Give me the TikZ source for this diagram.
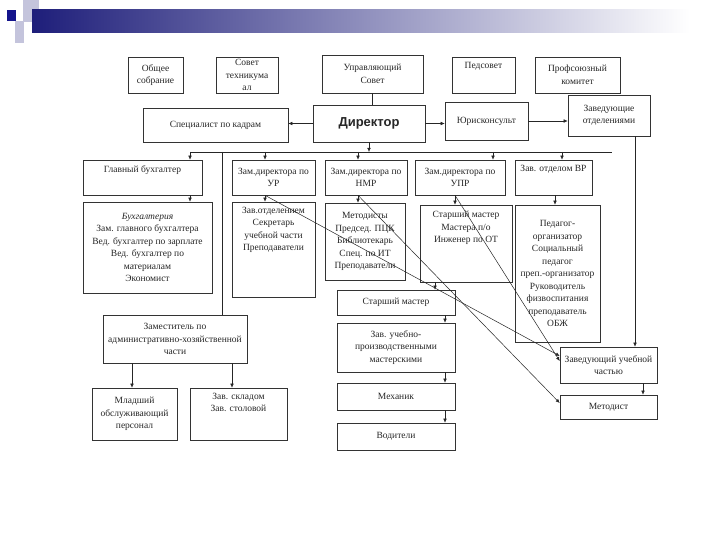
\documentclass[tikz,border=0pt]{standalone}
\usepackage{fontspec}
\setmainfont{Liberation Serif}
\newfontfamily\dirfont{Liberation Sans}
\usetikzlibrary{arrows.meta}
\definecolor{navy}{HTML}{14148C}
\definecolor{barl}{HTML}{1E1E7A}
\definecolor{barm}{HTML}{A4A4C0}
\definecolor{lav}{HTML}{C4C4DC}
\begin{document}
\begin{tikzpicture}[x=1pt,y=-1pt,
  box/.style={draw=black!80, line width=0.6pt, rectangle, inner sep=1pt, align=center,
    font=\fontsize{9.5}{12.5}\selectfont, text=black!85},
  txt/.style={inner sep=0pt, align=center, font=\fontsize{9.5}{12.5}\selectfont, text=black!85},
  arr/.style={draw=black!85, line width=0.5pt, -{Latex[length=4pt,width=3.5pt]}},
  ln/.style={draw=black!85, line width=0.6pt}]
\useasboundingbox (0,0) rectangle (720,540);
\fill[white] (0,0) rectangle (720,540);
% header
\fill[lav] (23,0) rectangle (39,22);
\fill[lav] (15,21) rectangle (24,43);
\fill[navy] (7,10) rectangle (16,21);
\shade[left color=barl, middle color=barm, right color=white] (32,10) rectangle (690,33);
% top row
\node[box, minimum width=55, minimum height=36] (obs) at (155.5,75) {Общее\\собрание};
\node[box, minimum width=62, minimum height=36] (sov) at (247,75) {Совет\\техникума\\ал};
\node[box, minimum width=101, minimum height=38] (upr) at (372.5,74) {Управляющий\\Совет};
\node[box, minimum width=63, minimum height=36] (ped) at (483.5,75) {};
\node[txt, anchor=north] (pedt) at (483.5,62) {Педсовет};
\node[box, minimum width=85, minimum height=36] (prof) at (577.5,75) {Профсоюзный\\комитет};
% second row
\node[box, minimum width=145, minimum height=34] (kadr) at (215.5,125) {Специалист по кадрам};
\node[box, minimum width=112, minimum height=37, font=\dirfont\bfseries\fontsize{13}{15}\selectfont] (dir) at (369,123.5) {Директор};
\node[box, minimum width=83, minimum height=38] (jur) at (486.5,121) {Юрисконсульт};
\node[box, minimum width=82, minimum height=41] (zavotd) at (609,115.5) {Заведующие\\отделениями};
% third row
\node[box, minimum width=119, minimum height=35] (glbuh) at (142.5,177.5) {};
\node[txt, anchor=north] (glbuht) at (142.5,166) {Главный бухгалтер};
\node[box, minimum width=83, minimum height=35] (ur) at (273.5,177.5) {Зам.директора по\\УР};
\node[box, minimum width=82, minimum height=35] (nmr) at (366,177.5) {Зам.директора по\\НМР};
\node[box, minimum width=90, minimum height=35] (upr2) at (460,177.5) {Зам.директора по\\УПР};
\node[box, minimum width=77, minimum height=35] (vr) at (553.5,177.5) {};
\node[txt, anchor=north] (vrt) at (553.5,165) {Зав. отделом ВР};
% fourth row
\node[box, minimum width=129, minimum height=91] (buh) at (147.5,247.5) {\textit{Бухгалтерия}\\Зам. главного бухгалтера\\Вед. бухгалтер по зарплате\\Вед. бухгалтер по\\материалам\\Экономист};
\node[box, minimum width=83, minimum height=95] (zo) at (273.5,249.5) {};
\node[txt, anchor=north] (zot) at (273.5,207) {Зав.отделением\\Секретарь\\учебной части\\Преподаватели};
\node[box, minimum width=80, minimum height=77] (met) at (365,241.5) {Методисты\\Председ. ПЦК\\Библиотекарь\\Спец. по ИТ\\Преподаватели};
\node[box, minimum width=92, minimum height=77] (sm1) at (466,243.5) {};
\node[txt, anchor=north] (sm1t) at (466,211) {Старший мастер\\Мастера п/о\\Инженер по ОТ};
\node[box, minimum width=85, minimum height=137, font=\fontsize{9.5}{12.5}\selectfont] (ped2) at (557.5,273.5) {Педагог-\\организатор\\Социальный\\педагог\\преп.-организатор\\Руководитель\\физвоспитания\\преподаватель\\ОБЖ};
% middle column
\node[box, minimum width=118, minimum height=25] (sm2) at (396,302.5) {Старший мастер};
\node[box, minimum width=118, minimum height=49] (zum) at (396,347.5) {Зав. учебно-\\производственными\\мастерскими};
\node[box, minimum width=118, minimum height=27] (mech) at (396,396.5) {Механик};
\node[box, minimum width=118, minimum height=27] (vod) at (396,436.5) {Водители};
% bottom left
\node[box, minimum width=144, minimum height=48] (ahch) at (175,339) {Заместитель по\\административно-хозяйственной\\части};
\node[box, minimum width=85, minimum height=52] (mop) at (134.5,414) {Младший\\обслуживающий\\персонал};
\node[box, minimum width=97, minimum height=52] (sklad) at (238.5,414) {};
\node[txt, anchor=north] (skladt) at (238.5,393) {Зав. складом\\Зав. столовой};
% right
\node[box, minimum width=97, minimum height=36] (zuch) at (608.5,365) {Заведующий учебной\\частью};
\node[box, minimum width=97, minimum height=24] (metodist) at (608.5,407) {Методист};
% column coordinates
\coordinate (busL) at (190,152);
\coordinate (busR) at (612,152);
\coordinate (c222) at (222,152);
\coordinate (c265) at (265,152);
\coordinate (c358) at (358,152);
\coordinate (c493) at (493,152);
\coordinate (c562) at (562,152);
\coordinate (c455) at (455,0);
\coordinate (c555) at (555,0);
\coordinate (c435) at (435,0);
\coordinate (c445) at (445,0);
\coordinate (c132) at (132,0);
\coordinate (c232) at (232,0);
\coordinate (c635) at (635,0);
\coordinate (c643) at (643,0);
% connectors
\draw[ln] (upr.south) -- (upr.south |- dir.north);
\draw[arr] (dir.west) -- (dir.west -| kadr.east);
\draw[arr] (dir.east) -- (dir.east -| jur.west);
\draw[arr] (jur.east) -- (jur.east -| zavotd.west);
\draw[arr] (dir.south) -- (dir.south |- busL);
\draw[ln] (busL) -- (busR);
\draw[arr] (busL) -- (busL |- glbuh.north);
\draw[arr] (c265) -- (c265 |- ur.north);
\draw[arr] (c358) -- (c358 |- nmr.north);
\draw[arr] (c493) -- (c493 |- upr2.north);
\draw[arr] (c562) -- (c562 |- vr.north);
\draw[ln] (c222) -- (c222 |- ahch.north);
\draw[arr] (busL |- glbuh.south) -- (busL |- buh.north);
\draw[arr] (c265 |- ur.south) -- (c265 |- zo.north);
\draw[arr] (c358 |- nmr.south) -- (c358 |- met.north);
\draw[arr] (c455 |- upr2.south) -- (c455 |- sm1.north);
\draw[arr] (c555 |- vr.south) -- (c555 |- ped2.north);
\draw[arr] (c435 |- sm1.south) -- (c435 |- sm2.north);
\draw[arr] (c445 |- sm2.south) -- (c445 |- zum.north);
\draw[arr] (c445 |- zum.south) -- (c445 |- mech.north);
\draw[arr] (c445 |- mech.south) -- (c445 |- vod.north);
\draw[arr] (c132 |- ahch.south) -- (c132 |- mop.north);
\draw[arr] (c232 |- ahch.south) -- (c232 |- sklad.north);
\draw[arr] (c635 |- zavotd.south) -- (c635 |- zuch.north);
\draw[arr] (c643 |- zuch.south) -- (c643 |- metodist.north);
% diagonals
\draw[arr] (c265 |- ur.south) -- ([yshift=9pt]zuch.west);
\draw[arr] (c455 |- upr2.south) -- ([yshift=4pt]zuch.west);
\draw[arr] (c358 |- nmr.south) -- ([yshift=4pt]metodist.west);
\end{tikzpicture}
\end{document}
